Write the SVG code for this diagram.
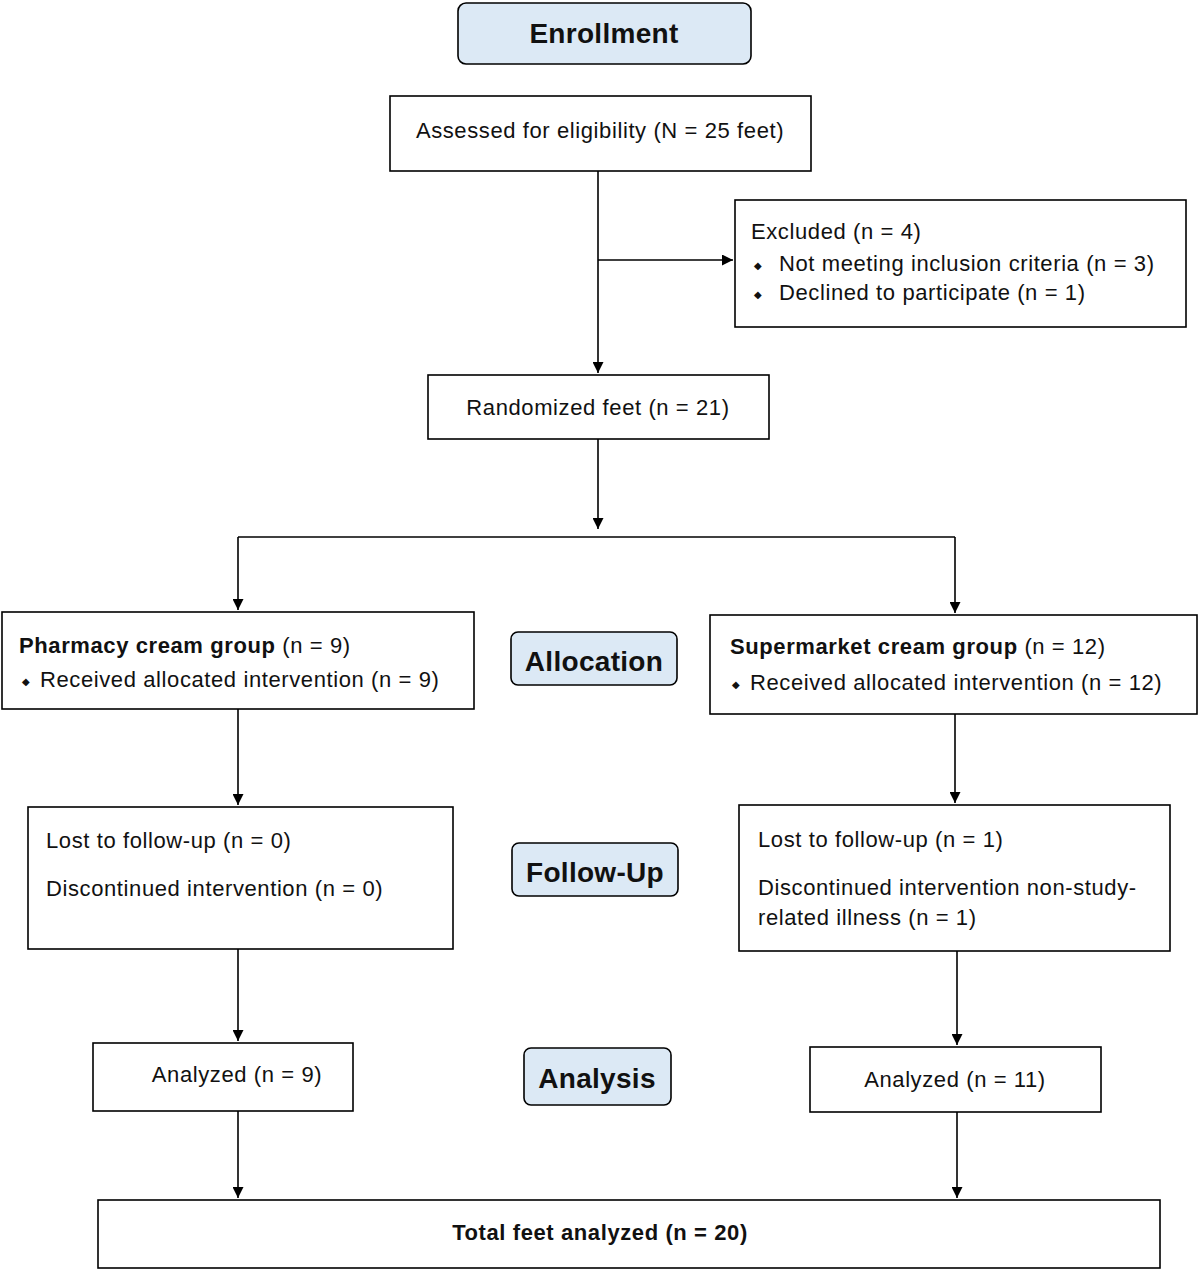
<svg xmlns="http://www.w3.org/2000/svg" width="1200" height="1272" viewBox="0 0 1200 1272">
<style>
.b{fill:#fff;stroke:#000;stroke-width:1.6}
.h{fill:#dce9f5;stroke:#000;stroke-width:1.6}
text{font-family:"Liberation Sans",Arial,sans-serif;font-size:22px;letter-spacing:0.6px;fill:#111}
.t{font-size:28px;font-weight:bold;text-anchor:middle;letter-spacing:0.3px}
.c{text-anchor:middle}
.bd{font-weight:bold}
.d{font-size:10px}
.l{stroke:#000;stroke-width:1.6;fill:none}
</style>
<defs><marker id="a" viewBox="0 0 10 10" refX="10" refY="5" markerWidth="13" markerHeight="11" markerUnits="userSpaceOnUse" orient="auto"><path d="M0,0L10,5L0,10z" fill="#000"/></marker></defs>
<rect width="1200" height="1272" fill="#fff"/>
<g id="connectors">
<path class="l" d="M598,171V373" marker-end="url(#a)"/>
<path class="l" d="M598,260H733" marker-end="url(#a)"/>
<path class="l" d="M598,439V529" marker-end="url(#a)"/>
<path class="l" d="M238,537H955"/>
<path class="l" d="M238,537V610" marker-end="url(#a)"/>
<path class="l" d="M955,537V613" marker-end="url(#a)"/>
<path class="l" d="M238,709V805" marker-end="url(#a)"/>
<path class="l" d="M955,714V803" marker-end="url(#a)"/>
<path class="l" d="M238,949V1041" marker-end="url(#a)"/>
<path class="l" d="M957,951V1045" marker-end="url(#a)"/>
<path class="l" d="M238,1111V1198" marker-end="url(#a)"/>
<path class="l" d="M957,1112V1198" marker-end="url(#a)"/>
</g>
<g id="enrollment"><rect class="h" x="458" y="3" width="293" height="61" rx="8"/><text class="t" x="604" y="43">Enrollment</text></g>
<g id="assessed"><rect class="b" x="390" y="96" width="421" height="75"/><text class="c" x="600" y="138">Assessed for eligibility (N = 25 feet)</text></g>
<g id="excluded"><rect class="b" x="735" y="200" width="451" height="127"/>
<text x="751" y="239">Excluded (n = 4)</text>
<text class="d" x="754" y="269">◆</text><text x="779" y="271">Not meeting inclusion criteria (n = 3)</text>
<text class="d" x="754" y="298">◆</text><text x="779" y="300">Declined to participate (n = 1)</text></g>
<g id="randomized"><rect class="b" x="428" y="375" width="341" height="64"/><text class="c" x="598" y="415">Randomized feet (n = 21)</text></g>
<g id="pharmacy"><rect class="b" x="2" y="612" width="472" height="97"/>
<text x="19" y="653"><tspan class="bd">Pharmacy cream group</tspan> (n = 9)</text>
<text class="d" x="22" y="685">◆</text><text x="40" y="687">Received allocated intervention (n = 9)</text></g>
<g id="allocation"><rect class="h" x="511" y="632" width="166" height="53" rx="7"/><text class="t" x="594" y="671">Allocation</text></g>
<g id="supermarket"><rect class="b" x="710" y="615" width="487" height="99"/>
<text x="730" y="654"><tspan class="bd">Supermarket cream group</tspan> (n = 12)</text>
<text class="d" x="732" y="688">◆</text><text x="750" y="690">Received allocated intervention (n = 12)</text></g>
<g id="lostleft"><rect class="b" x="28" y="807" width="425" height="142"/>
<text x="46" y="848">Lost to follow-up (n = 0)</text><text x="46" y="896">Discontinued intervention (n = 0)</text></g>
<g id="followup"><rect class="h" x="512" y="843" width="166" height="53" rx="7"/><text class="t" x="595" y="882">Follow-Up</text></g>
<g id="lostright"><rect class="b" x="739" y="805" width="431" height="146"/>
<text x="758" y="847">Lost to follow-up (n = 1)</text><text x="758" y="895">Discontinued intervention non-study-</text><text x="758" y="925">related illness (n = 1)</text></g>
<g id="analyzedleft"><rect class="b" x="93" y="1043" width="260" height="68"/><text class="c" x="237" y="1082">Analyzed (n = 9)</text></g>
<g id="analysis"><rect class="h" x="524" y="1048" width="147" height="57" rx="7"/><text class="t" x="597" y="1088">Analysis</text></g>
<g id="analyzedright"><rect class="b" x="810" y="1047" width="291" height="65"/><text class="c" x="955" y="1087">Analyzed (n = 11)</text></g>
<g id="total"><rect class="b" x="98" y="1200" width="1062" height="68"/><text class="c bd" x="600" y="1240">Total feet analyzed (n = 20)</text></g>
</svg>
